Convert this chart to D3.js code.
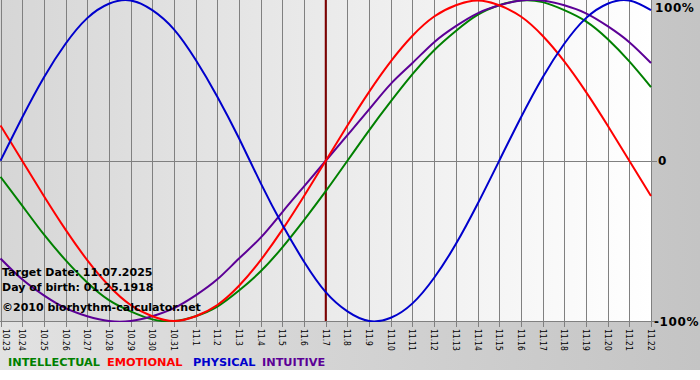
<!DOCTYPE html>
<html><head><meta charset="utf-8">
<script src="https://cdn.jsdelivr.net/npm/d3@7"></script>
<style>html,body{margin:0;padding:0;background:#fff;}svg{display:block;}</style>
</head><body>
<svg id="c" width="700" height="380"></svg>
<script>
const dates = ["10.23","10.24","10.25","10.26","10.27","10.28","10.29","10.30","10.31","11.1","11.2","11.3","11.4","11.5","11.6","11.7","11.8","11.9","11.10","11.11","11.12","11.13","11.14","11.15","11.16","11.17","11.18","11.19","11.20","11.21","11.22"];
const physical = [0,27,52,73,89,98,100,94,82,63,40,14,-14,-40,-63,-82,-94,-100,-98,-89,-73,-52,-27,0,27,52,73,89,98,100,94];
const emotional = [22,0,-22,-43,-62,-78,-90,-97,-100,-97,-90,-78,-62,-43,-22,0,22,43,62,78,90,97,100,97,90,78,62,43,22,0,-22];
const intellectual = [-10,-28,-46,-62,-76,-87,-94,-99,-100,-97,-91,-81,-69,-54,-37,-19,0,19,37,54,69,81,91,97,100,99,94,87,76,62,46];
const intuitive = [-61,-74,-84,-92,-97,-100,-100,-97,-92,-84,-74,-61,-48,-32,-16,0,16,32,48,61,74,84,92,97,100,100,97,92,84,74,61];
const targetIndex = 15;
const yTicks = [100, 0, -100];
const yTickLabels = ["100%", "0", "-100%"];
const infoLines = ["Target Date: 11.07.2025", "Day of birth: 01.25.1918", "\u00a92010 biorhythm-calculator.net"];
const legendNames = ["INTELLECTUAL", "EMOTIONAL", "PHYSICAL", "INTUITIVE"];
const legendColors = ["#008000", "#ff0000", "#0000cc", "#5c0096"];
const series = [
  {values: intellectual, color:"#008000"},
  {values: intuitive, color:"#5c0096"},
  {values: emotional, color:"#ff0000"},
  {values: physical, color:"#0000cc"}
];

const svg = d3.select("#c");
const W = 700, H = 370;
const plot = {x0:0, x1:651, y0:0, y1:321};
const FONT = "DejaVu Sans, Verdana, sans-serif";
const defs = svg.append("defs");
const g1 = defs.append("linearGradient").attr("id","outer").attr("x1","0").attr("x2","1").attr("y1","0").attr("y2","0");
g1.append("stop").attr("offset","0").attr("stop-color","#e2e2e2");
g1.append("stop").attr("offset","1").attr("stop-color","#c4c4c4");
const g2 = defs.append("linearGradient").attr("id","inner").attr("x1","0").attr("x2","1").attr("y1","0").attr("y2","0");
g2.append("stop").attr("offset","0").attr("stop-color","#d6d6d6");
g2.append("stop").attr("offset","1").attr("stop-color","#ffffff");

svg.append("rect").attr("x",0).attr("y",0).attr("width",W).attr("height",H).attr("fill","url(#outer)");
svg.append("rect").attr("x",plot.x0).attr("y",plot.y0).attr("width",plot.x1-plot.x0).attr("height",plot.y1-plot.y0).attr("fill","url(#inner)");

const x = d3.scaleLinear().domain([0, dates.length-1]).range([plot.x0+0.5, plot.x1]);
const y = d3.scaleLinear().domain([-100, 100]).range([plot.y1, plot.y0+0.5]);

// vertical grid + ticks
svg.append("g").selectAll("line").data(dates).join("line")
  .attr("x1",(d,i)=>Math.round(x(i))+0.5).attr("x2",(d,i)=>Math.round(x(i))+0.5)
  .attr("y1",plot.y0).attr("y2",plot.y1+6)
  .attr("stroke","#808080").attr("stroke-width",1);
// horizontal zero line & bottom border
svg.append("line").attr("x1",plot.x0).attr("x2",plot.x1+6).attr("y1",Math.round(y(0))+0.5).attr("y2",Math.round(y(0))+0.5).attr("stroke","#808080");
svg.append("line").attr("x1",plot.x0).attr("x2",plot.x1+6).attr("y1",plot.y1+0.5).attr("y2",plot.y1+0.5).attr("stroke","#808080");

// target line
svg.append("line").attr("x1",x(targetIndex)).attr("x2",x(targetIndex)).attr("y1",plot.y0).attr("y2",plot.y1)
  .attr("stroke","#800000").attr("stroke-width",2);

const clip = defs.append("clipPath").attr("id","pc");
clip.append("rect").attr("x",plot.x0).attr("y",plot.y0).attr("width",plot.x1-plot.x0+1).attr("height",plot.y1-plot.y0+1);

const line = d3.line().x((d,i)=>x(i)).y(d=>y(d)).curve(d3.curveNatural);
svg.append("g").attr("clip-path","url(#pc)").selectAll("path").data(series).join("path")
  .attr("d", d=>line(d.values)).attr("fill","none").attr("stroke",d=>d.color).attr("stroke-width",2);

// date labels (rotated, reading downward)
svg.append("g").selectAll("text").data(dates).join("text")
  .attr("transform",(d,i)=>`translate(${Math.max(Math.round(x(i))-3, 3)},${plot.y1+8}) rotate(90) scale(0.8,1)`)
  .attr("font-family",FONT).attr("font-size","9.5px").attr("fill","#000")
  .text(d=>d);

// y labels
svg.append("g").selectAll("text").data(yTicks).join("text")
  .attr("x",(d,i)=> i===1 ? 658 : (i===0 ? 655 : 654))
  .attr("y",d=> Math.max(y(d), 7) + 4.5)
  .attr("font-family",FONT).attr("font-weight","bold").attr("font-size","12px")
  .attr("letter-spacing","0.6px").attr("fill","#000")
  .text((d,i)=>yTickLabels[i]);

// info text
svg.append("g").selectAll("text").data(infoLines).join("text")
  .attr("x",2).attr("y",(d,i)=>[276,291,311][i])
  .attr("font-family",FONT).attr("font-weight","bold").attr("font-size","11px").attr("fill","#000")
  .text(d=>d);

// legend
const legendX = [8, 107, 193, 262];
svg.append("g").selectAll("text").data(legendNames).join("text")
  .attr("x",(d,i)=>legendX[i]).attr("y",366)
  .attr("font-family",FONT).attr("font-weight","bold").attr("font-size","11.3px")
  .attr("fill",(d,i)=>legendColors[i])
  .text(d=>d);
</script>
</body></html>
